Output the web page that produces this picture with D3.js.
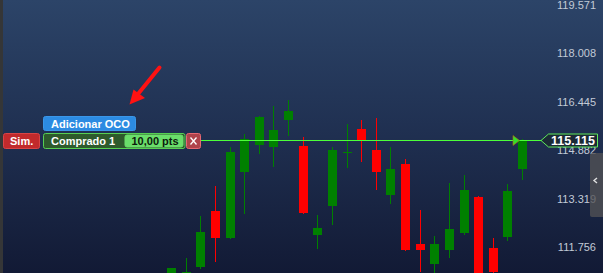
<!DOCTYPE html>
<html>
<head>
<meta charset="utf-8">
<script src="https://cdn.jsdelivr.net/npm/d3@7"></script>
<style>
  html, body { margin: 0; padding: 0; background: #121a35; overflow: hidden; }
  svg { display: block; font-family: "Liberation Sans", Arial, sans-serif; }
</style>
</head>
<body>
<svg id="chart" width="603" height="273"></svg>
<script>
// candle data (oldest -> newest)
const opens  = [110.290, 110.400, 111.042, 112.837, 111.976, 114.103, 114.964, 114.899, 115.769, 114.931, 112.063, 112.998, 114.728, 115.479, 114.802, 113.362, 114.351, 111.773, 111.138, 111.589, 112.137, 113.288, 111.644, 112.008, 114.190];
const highs  = [111.000, 111.322, 112.675, 113.642, 114.899, 115.318, 115.898, 116.220, 116.414, 115.221, 112.708, 114.899, 115.640, 115.769, 115.834, 114.899, 114.512, 112.869, 112.031, 113.739, 113.997, 113.320, 111.966, 113.707, 115.157];
const lows   = [110.200, 110.300, 110.967, 111.203, 111.950, 112.750, 114.674, 114.255, 115.254, 112.740, 111.612, 112.385, 114.222, 114.416, 113.523, 113.072, 111.557, 110.880, 110.600, 111.332, 112.073, 110.400, 110.700, 111.879, 113.845];
const closes = [111.000, 110.880, 112.160, 111.976, 114.738, 115.157, 115.866, 115.447, 116.059, 112.772, 112.289, 114.802, 114.728, 115.125, 114.103, 114.190, 111.589, 111.589, 111.773, 112.256, 113.513, 110.500, 110.880, 113.481, 115.115];

const priceTicks = [119.571, 118.008, 116.445, 114.882, 113.319, 111.756];
const lastPrice = 115.115;

const svg = d3.select("#chart");
const width = +svg.attr("width");
const height = +svg.attr("height");

const candles = opens.map((o, i) => ({ i, o, h: highs[i], l: lows[i], c: closes[i] }));

const x = d3.scaleBand()
  .domain(candles.map(d => d.i))
  .range([164.19, 529.81])
  .paddingInner(0.385)
  .paddingOuter(0.1925);

const y = d3.scaleLinear()
  .domain([111.756, 119.571])
  .range([244.53, 2.03]);

// background
const defs = svg.append("defs");
const grad = defs.append("linearGradient")
  .attr("id", "bg").attr("x1", 0).attr("y1", 0).attr("x2", 0).attr("y2", 1);
grad.append("stop").attr("offset", "0%").attr("stop-color", "#2c4468");
grad.append("stop").attr("offset", "50%").attr("stop-color", "#1f2f50");
grad.append("stop").attr("offset", "100%").attr("stop-color", "#121a35");

svg.append("rect")
  .attr("width", width).attr("height", height)
  .attr("fill", "url(#bg)");

svg.append("rect") // left frame strip
  .attr("width", 3).attr("height", height)
  .attr("fill", "#353637");

// candles
const g = svg.append("g").attr("shape-rendering", "crispEdges");

g.selectAll("line.wick")
  .data(candles)
  .enter()
  .append("line")
  .attr("class", "wick")
  .attr("x1", d => Math.round(x(d.i)) + 4.5)
  .attr("x2", d => Math.round(x(d.i)) + 4.5)
  .attr("y1", d => y(d.h))
  .attr("y2", d => y(d.l))
  .attr("stroke", d => d.c >= d.o ? "#008000" : "#ff0000")
  .attr("stroke-width", 1);

g.selectAll("rect.body")
  .data(candles)
  .enter()
  .append("rect")
  .attr("class", "body")
  .attr("x", d => Math.round(x(d.i)))
  .attr("width", 9)
  .attr("y", d => Math.round(y(Math.max(d.o, d.c))))
  .attr("height", d => Math.max(1, Math.round(Math.abs(y(d.o) - y(d.c)))))
  .attr("fill", d => d.c >= d.o ? "#008000" : "#ff0000");

// price axis labels
svg.append("g")
  .selectAll("text")
  .data(priceTicks)
  .enter()
  .append("text")
  .attr("x", 596)
  .attr("y", d => y(d) + 6.5)
  .attr("text-anchor", "end")
  .attr("font-size", "11px")
  .attr("fill", "#c2cad6")
  .text(d => d3.format(".3f")(d));

// last price line
const py = Math.round(y(lastPrice)) + 0.5;
svg.append("line")
  .attr("x1", 200).attr("x2", 542)
  .attr("y1", py).attr("y2", py)
  .attr("stroke", "#4cff3a")
  .attr("stroke-width", 1.2);

svg.append("path") // marker on the line
  .attr("d", `M513,${py - 5}L519.5,${py}L513,${py + 5}Z`)
  .attr("fill", "#33e02a")
  .attr("stroke", "#b86a10")
  .attr("stroke-width", 0.6);

svg.append("path") // price tag
  .attr("d", `M541,${py}L548.5,${py - 6.5}H597.5V${py + 6.5}H548.5Z`)
  .attr("fill", "#1b2a36")
  .attr("stroke", "#5ee85a")
  .attr("stroke-width", 1);

svg.append("text")
  .attr("x", 573)
  .attr("y", py + 4.5)
  .attr("text-anchor", "middle")
  .attr("font-size", "12.5px")
  .attr("font-weight", "bold")
  .attr("fill", "#ffffff")
  .text(d3.format(".3f")(lastPrice));

// side tab
svg.append("rect")
  .attr("x", 590).attr("y", 153).attr("width", 15).attr("height", 64).attr("rx", 2)
  .attr("fill", "rgba(82,82,84,0.78)");
svg.append("path")
  .attr("d", "M597,178L594,180.5L597,183")
  .attr("fill", "none").attr("stroke", "#e0e0e0").attr("stroke-width", 1.4);

// order widgets
function button(x0, y0, w, h, fill, stroke, label, color, tx, size) {
  svg.append("rect")
    .attr("x", x0).attr("y", y0).attr("width", w).attr("height", h).attr("rx", 2)
    .attr("fill", fill).attr("stroke", stroke).attr("stroke-width", 1);
  svg.append("text")
    .attr("x", tx).attr("y", y0 + h / 2 + 4)
    .attr("font-size", size || "11px").attr("font-weight", "bold")
    .attr("fill", color).text(label);
}

button(3.5, 133.5, 36, 15, "#c12a2c", "#d84446", "Sim.", "#ffffff", 10);
button(43.5, 116.5, 92, 14, "#2c8be2", "#3a96e8", "Adicionar OCO", "#ffffff", 51);
button(43.5, 133.5, 141.5, 15, "#2e5a2c", "#56d052", "Comprado 1", "#ffffff", 51);
button(125, 135, 58, 12, "#6ade6a", "#6ade6a", "10,00 pts", "#0c1a0c", 131.5);

svg.append("rect")
  .attr("x", 186.5).attr("y", 133.5).attr("width", 14).attr("height", 15).attr("rx", 2)
  .attr("fill", "#b0434b").attr("stroke", "#e86872");
svg.append("path")
  .attr("d", "M190.5,137.5L196.5,144.5M196.5,137.5L190.5,144.5")
  .attr("stroke", "#ffffff").attr("stroke-width", 1.3);

// red arrow
svg.append("line")
  .attr("x1", 159.5).attr("y1", 67.5).attr("x2", 138).attr("y2", 94)
  .attr("stroke", "#ff1212").attr("stroke-width", 4).attr("stroke-linecap", "round");
svg.append("path")
  .attr("d", "M129.5,104.5L133.5,89.5L145,98Z")
  .attr("fill", "#ff1212");
</script>
</body>
</html>
